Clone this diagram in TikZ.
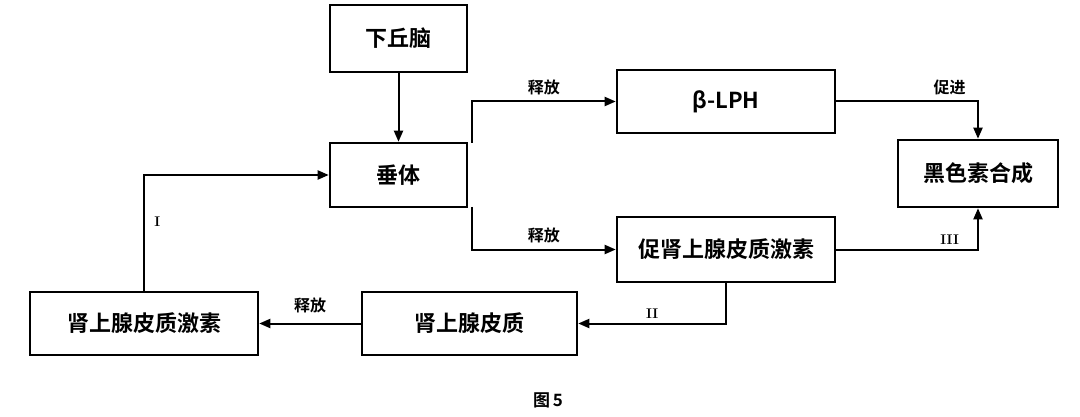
\documentclass[tikz,border=0pt]{standalone}
\usepackage{fontspec}
\newfontfamily\cjk{Noto Sans CJK SC}[BoldFont={Noto Sans CJK SC Bold}]
\usetikzlibrary{arrows.meta}
\begin{document}
\begin{tikzpicture}[x=1pt,y=-1pt,
 bx/.style={draw,line width=2.6pt,inner sep=0pt,font=\cjk\bfseries\fontsize{22}{24}\selectfont},
 ar/.style={line width=2pt,-{Triangle[length=11pt,width=9pt]}},
 lb/.style={font=\cjk\bfseries\fontsize{16}{17}\selectfont},
 rn/.style={font=\bfseries\fontsize{14}{15}\selectfont}]
\useasboundingbox (0,0) rectangle (1080,417);
\node[bx,minimum width=137pt,minimum height=67pt] (hyp) at (398.5,38.5) {下丘脑};
\node[bx,minimum width=137pt,minimum height=64pt] (pit) at (398.5,175) {垂体};
\node[bx,minimum width=218pt,minimum height=63pt] (lph) at (726,101.5) {β-LPH};
\node[bx,minimum width=160pt,minimum height=67pt] (mel) at (978,173.5) {黑色素合成};
\node[bx,minimum width=218pt,minimum height=65pt] (acth) at (726,249.5) {促肾上腺皮质激素};
\node[bx,minimum width=215pt,minimum height=63pt] (ctx) at (469.5,323.5) {肾上腺皮质};
\node[bx,minimum width=228pt,minimum height=63pt] (cort) at (144,323.5) {肾上腺皮质激素};
\node[font=\cjk\bfseries\fontsize{17}{18}\selectfont] (fig) at (548,400) {图\,5};
\coordinate (p1) at (472,143);
\coordinate (p2) at (472,207);
\draw[ar] (hyp) -- (pit);
\draw[ar] (p1) |- node[lb,pos=0.75,above=2pt]{释放} (lph.west);
\draw[ar] (p2) |- node[lb,pos=0.75,above=2pt]{释放} (acth.west);
\draw[ar] (lph.east) -| node[lb,pos=0.4,above=2pt]{促进} (mel.north);
\draw[ar] (acth.east) -| node[rn,pos=0.4,above=1pt]{III} (mel.south);
\draw[ar] (acth.south) |- node[rn,pos=0.75,above=1pt]{II} (ctx.east);
\draw[ar] (ctx.west) -- node[lb,above=6pt]{释放} (cort.east);
\draw[ar] (cort.north) |- node[rn,pos=0.3,right=6pt]{I} (pit.west);
\end{tikzpicture}
\end{document}
